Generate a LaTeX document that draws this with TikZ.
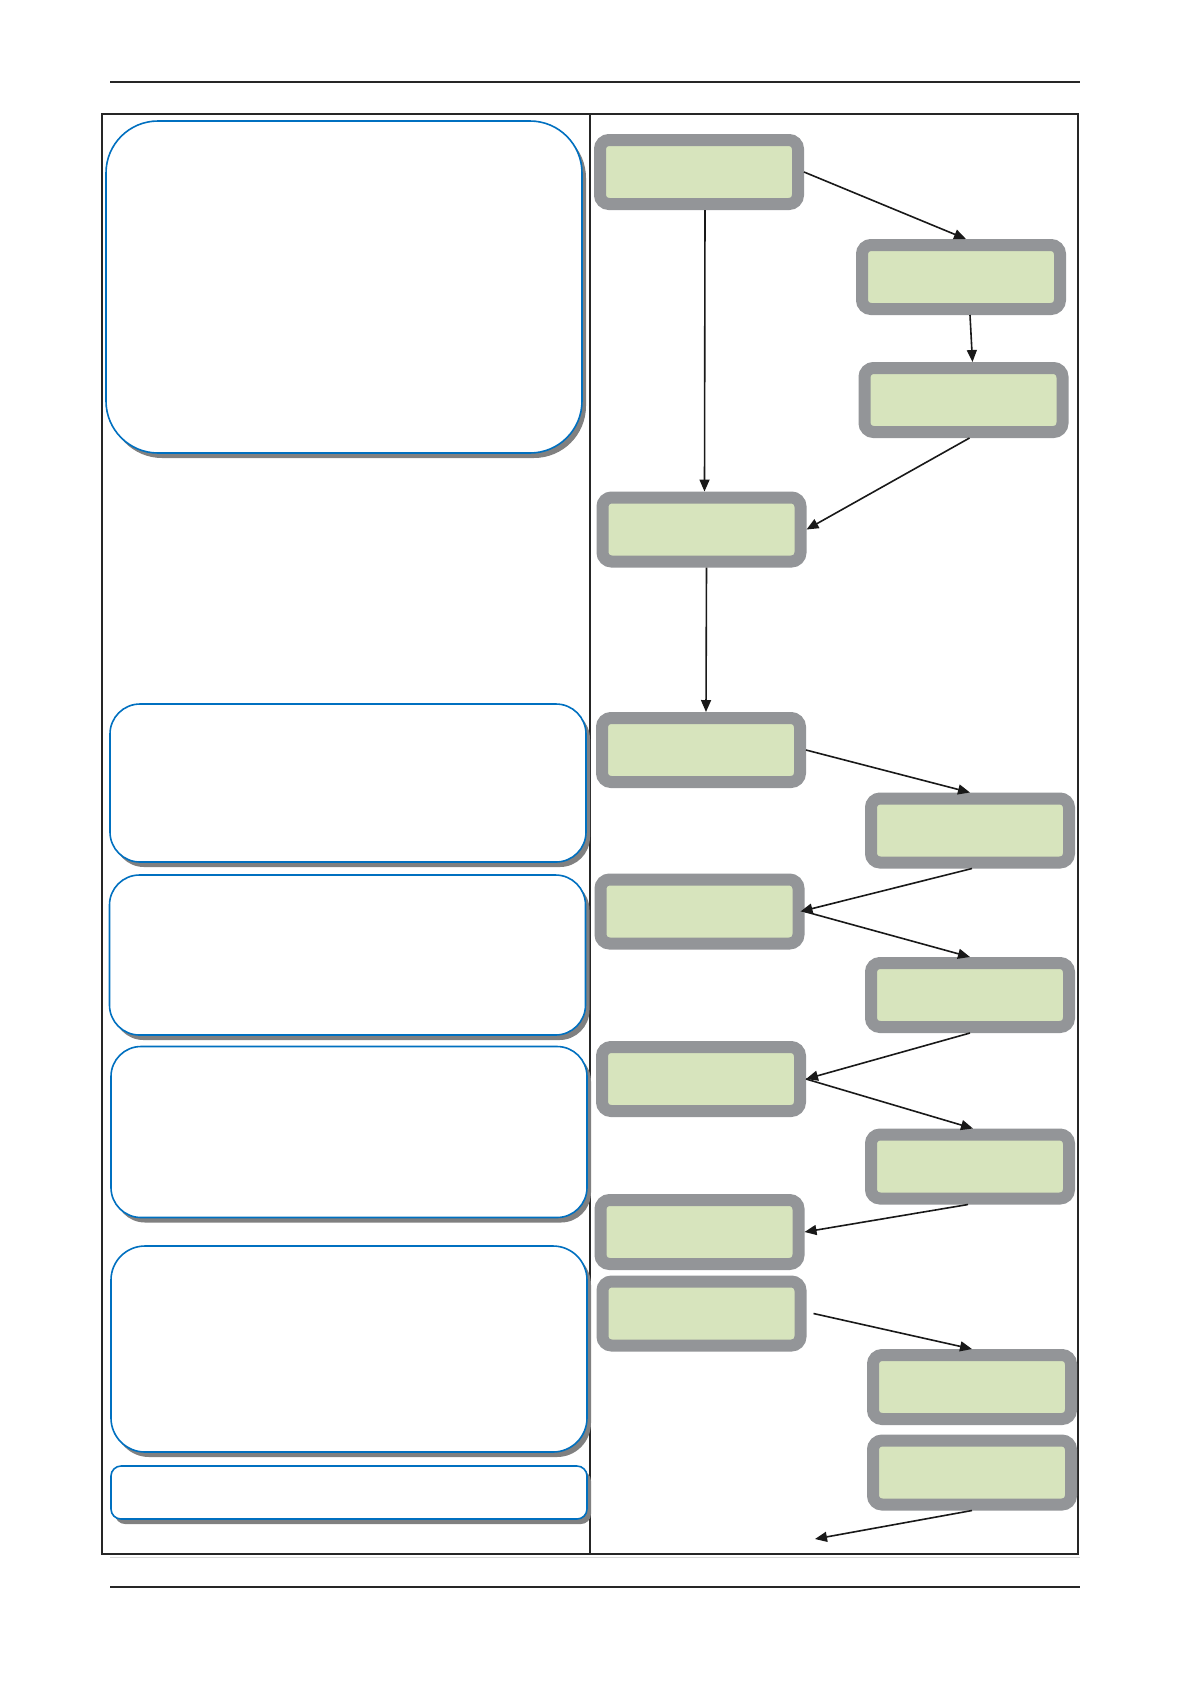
\documentclass[tikz,border=0pt]{standalone}
\usepackage{tikz}
\usetikzlibrary{positioning, arrows.meta, shadows}
\usepackage{xcolor}

\definecolor{stagegray}{RGB}{147,149,152}
\definecolor{stagegreen}{RGB}{215,228,189}
\definecolor{noteblue}{RGB}{0,112,192}

\begin{document}
\begin{tikzpicture}[
    x=0.5pt, y=-0.5pt,
    >={Triangle[length=6pt,width=5pt]},
    stage/.style={draw=stagegray, fill=stagegreen, line width=6pt, rounded corners=4.5pt,
        minimum width=99pt, minimum height=32pt, inner sep=0pt},
    note/.style={draw=noteblue, fill=white, line width=0.8pt, minimum width=238pt, inner sep=0pt,
        drop shadow={shadow xshift=2pt, shadow yshift=-2.5pt, fill=black!50, opacity=1}},
    flow/.style={->, line width=0.8pt, black!90}
]
    \path[use as bounding box, fill=white] (0,0) rectangle (1190,1683);

    % Page rules and frame
    \draw[line width=0.7pt, black!85] (110,82) -- (1080,82);
    \draw[line width=0.7pt, black!85] (110,1587) -- (1080,1587);
    \draw[line width=0.5pt, black!15] (110,1557) -- (1080,1557);
    \draw[line width=0.6pt, black!85] (102,114) rectangle (1078,1554);
    \draw[line width=0.6pt, black!85] (590,114) -- (590,1554);

    % Notes
    \node[note, minimum height=166pt, rounded corners=26pt] (note_main) at (344,287) {};
    \node[note, minimum height=79pt, rounded corners=15pt] (note_a) at (348,783) {};
    \node[note, minimum height=80pt, rounded corners=15pt] (note_b) at (347.5,955) {};
    \node[note, minimum height=85.5pt, rounded corners=15pt] (note_c) at (349,1132) {};
    \node[note, minimum height=103pt, rounded corners=17pt] (note_d) at (349,1349) {};
    \node[note, minimum height=26.5pt, rounded corners=5pt] (note_e) at (349,1492.5) {};

    % Stages
    \node[stage] (box_1) at (699,172) {};
    \node[stage] (box_2) at (961,277) {};
    \node[stage] (box_3) at (963.5,400) {};
    \node[stage] (box_4) at (701.5,529.5) {};
    \node[stage] (box_5) at (701,750) {};
    \node[stage] (box_6) at (970,830.5) {};
    \node[stage] (box_7) at (699.5,911.5) {};
    \node[stage] (box_8) at (970,995) {};
    \node[stage] (box_9) at (701,1079) {};
    \node[stage] (box_10) at (970,1166.5) {};
    \node[stage] (box_11) at (699.5,1232) {};
    \node[stage] (box_12) at (701.5,1313.5) {};
    \node[stage] (box_13) at (972,1387) {};
    \node[stage] (box_14) at (972,1472.5) {};
    \coordinate (exit) at (815,1539);

    % Transitions
    \path[flow]
        (box_1.east) edge ([xshift=2.5pt]box_2.north)
        ([xshift=4.5pt]box_2.south) edge ([xshift=4.5pt]box_3.north)
        ([xshift=3pt]box_3.south) edge (box_4.east)
        ([xshift=3pt]box_1.south) edge ([xshift=1.5pt]box_4.north)
        ([xshift=2.5pt]box_4.south) edge ([xshift=2.5pt]box_5.north)
        (box_5.east) edge (box_6.north)
        ([xshift=1pt]box_6.south) edge ([xshift=-2pt]box_7.east)
        (box_7.east) edge (box_8.north)
        (box_8.south) edge (box_9.east)
        (box_9.east) edge ([xshift=1.5pt]box_10.north)
        ([xshift=-1pt]box_10.south) edge (box_11.east)
        ([xshift=3.5pt]box_12.east) edge (box_13.north)
        (box_14.south) edge (exit);
\end{tikzpicture}
\end{document}
